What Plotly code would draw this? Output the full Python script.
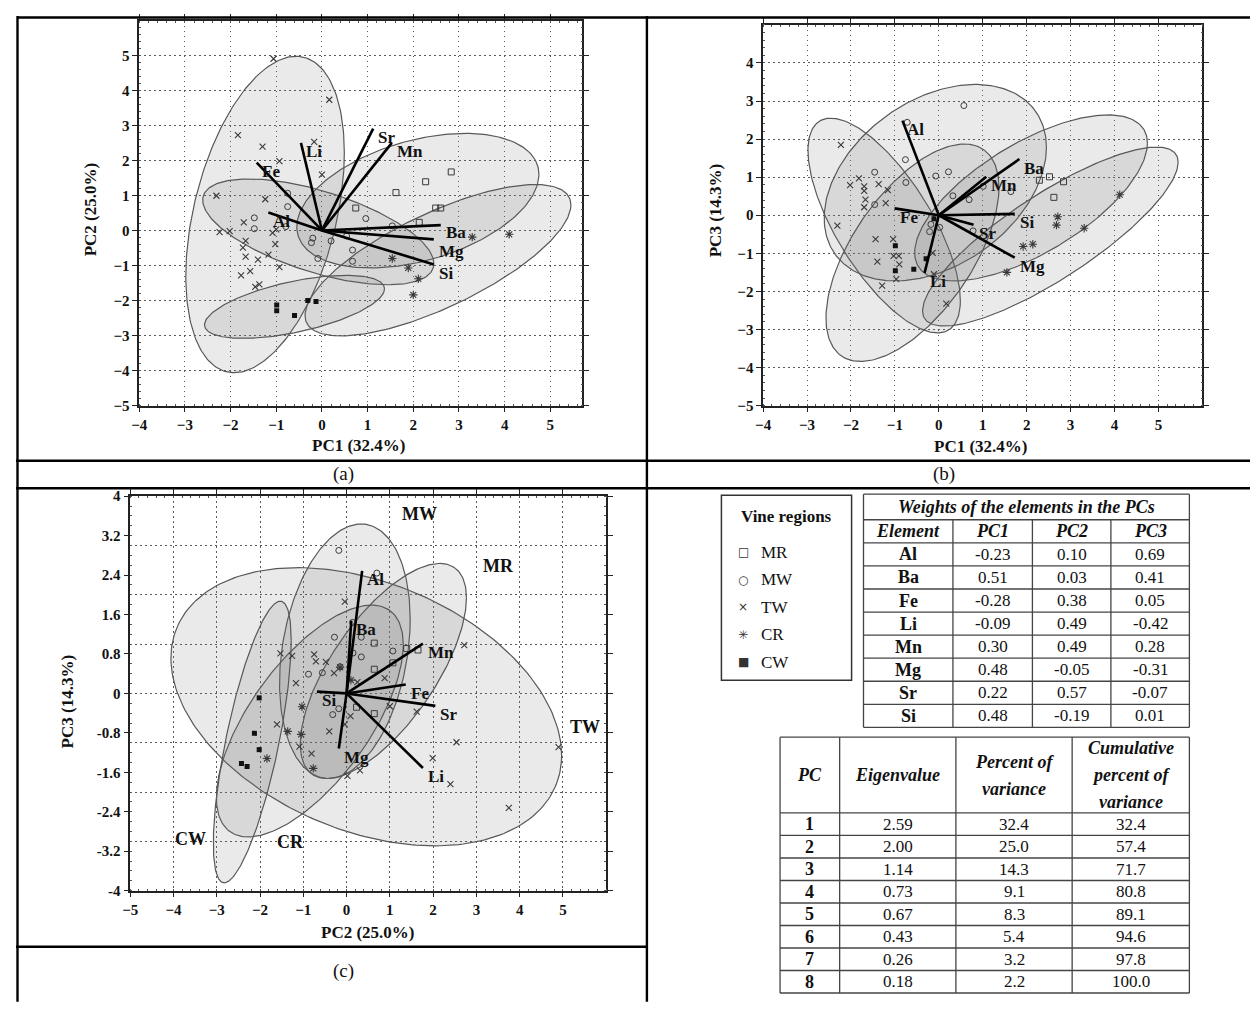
import numpy as np
import plotly.graph_objects as go

# The page body keeps its default 8px margin, so the figure is 16px smaller than
# the window and all reference pixel positions are shifted by that margin.
PAGE_W, PAGE_H, BODY_MARGIN = 1258, 1010, 8
W, H = PAGE_W - 2 * BODY_MARGIN, PAGE_H - 2 * BODY_MARGIN
SERIF = "Liberation Serif, Times New Roman, serif"

# ------------------------------------------------------------------ data
elements = ["Al", "Ba", "Fe", "Li", "Mn", "Mg", "Sr", "Si"]
w_pc1 = [-0.23, 0.51, -0.28, -0.09, 0.30, 0.48, 0.22, 0.48]
w_pc2 = [0.10, 0.03, 0.38, 0.49, 0.49, -0.05, 0.57, -0.19]
w_pc3 = [0.69, 0.41, 0.05, -0.42, 0.28, -0.31, -0.07, 0.01]

pc_numbers = [1, 2, 3, 4, 5, 6, 7, 8]
eigenvalues = [2.59, 2.00, 1.14, 0.73, 0.67, 0.43, 0.26, 0.18]
pct_variance = [32.4, 25.0, 14.3, 9.1, 8.3, 5.4, 3.2, 2.2]
cum_variance = [32.4, 57.4, 71.7, 80.8, 89.1, 94.6, 97.8, 100.0]

regions = ["MR", "MW", "TW", "CR", "CW"]

# panel (a): PC1 vs PC2 scores
MR_a_x = [2.83, 2.27, 1.62, 0.74, 2.49, 2.60, 2.13]
MR_a_y = [1.67, 1.39, 1.08, 0.64, 0.64, 0.64, 0.23]
MW_a_x = [-1.48, -1.48, -0.75, -0.75, -0.79, 0.96, 1.54, -0.20, -0.23, 0.20, 0.54, 0.67, 0.67, -0.09]
MW_a_y = [0.36, 0.05, 0.68, 1.06, 0.11, 0.34, 0.13, -0.22, -0.35, -0.30, -0.16, -0.56, -0.88, -0.80]
TW_a_x = [-1.06, 0.16, -1.84, -1.30, -0.17, -0.93, 0.00, -2.31, -1.24, -1.71, -2.24, -2.02, -1.67,
          -1.73, -1.67, -1.40, -1.17, -1.02, -1.08, -1.00, -0.93, -1.77, -1.57, -1.46, -1.37]
TW_a_y = [4.90, 3.73, 2.72, 2.39, 2.53, 1.98, 1.59, 0.99, 0.89, 0.23, -0.05, -0.02, -0.30,
          -0.49, -0.75, -0.83, -0.69, -0.39, -0.07, 0.03, -1.05, -1.28, -1.16, -1.61, -1.54]
CR_a_x = [1.54, 1.89, 2.11, 2.00, 3.29, 4.10]
CR_a_y = [-0.80, -1.07, -1.38, -1.84, -0.19, -0.11]
CW_a_x = [-0.99, -0.99, -0.60, -0.31, -0.13]
CW_a_y = [-2.13, -2.29, -2.43, -2.00, -2.03]

# panel (b): PC1 vs PC3 scores
MR_b_x = [2.52, 2.84, 2.29, 2.62]
MR_b_y = [1.01, 0.88, 0.92, 0.47]
MW_b_x = [0.57, -0.72, -0.76, -0.75, -1.46, -1.46, -0.07, 0.22, 0.32, 0.69, 1.01, 1.64, -0.18, -0.21, 0.02, 0.78]
MW_b_y = [2.88, 2.44, 1.46, 0.86, 1.13, 0.28, 1.03, 1.14, 0.51, 0.41, 0.76, 0.62, -0.24, -0.43, -0.32, -0.41]
TW_b_x = [-2.23, -2.02, -1.82, -1.70, -1.70, -1.67, -1.70, -1.37, -1.16, -1.21, -2.31, -1.44, -1.04,
          -1.03, -0.91, -0.90, -1.40, -0.97, -1.29, 0.17, -0.11, -0.14]
TW_b_y = [1.85, 0.79, 0.97, 0.76, 0.64, 0.41, 0.21, 0.82, 0.66, 0.32, -0.27, -0.63, -0.63,
          -1.07, -1.07, -1.29, -1.22, -1.68, -1.85, -2.32, -1.55, -0.99]
CR_b_x = [2.71, 2.68, 4.12, 3.31, 2.14, 1.92, 1.55]
CR_b_y = [-0.04, -0.26, 0.54, -0.34, -0.76, -0.82, -1.50]
CW_b_x = [-0.99, -0.99, -0.57, -0.29, -0.11]
CW_b_y = [-0.80, -1.46, -1.42, -1.14, -0.09]

# panel (c): PC2 vs PC3 scores
MR_c_x = [0.64, 1.65, 1.39, 0.64, 1.07, 0.23, 0.64]
MR_c_y = [1.02, 0.88, 0.91, 0.49, 0.62, -0.28, -0.41]
MW_c_x = [-0.18, 0.70, -0.28, 0.34, -0.88, -0.56, 0.34, 1.07, 0.15, -0.15, -0.32, -0.18, 0.14]
MW_c_y = [2.90, 2.44, 1.14, 1.14, 0.39, 0.42, 0.74, 0.86, 0.82, 0.54, -0.43, -0.31, 1.44]
TW_c_x = [-0.04, -1.53, -1.26, -0.75, -0.71, -0.48, -0.29, -1.17, 0.25, 0.88, 2.72, 1.00, 1.62,
          -1.61, -0.40, -1.09, -0.81, -0.04, 2.54, 1.99, 2.40, 4.90, 3.75, 0.31, 0.02, 0.09]
TW_c_y = [1.86, 0.81, 0.76, 0.79, 0.65, 0.64, 0.41, 0.21, 0.23, 0.31, 0.98, -0.26, -0.37,
          -0.63, -0.77, -1.08, -1.22, -0.63, -0.99, -1.31, -1.84, -1.09, -2.32, -1.56, -1.67, -0.46]
CR_c_x = [-0.15, -1.03, -1.36, -1.05, -0.77, -1.84, 0.10]
CR_c_y = [0.53, -0.27, -0.77, -0.83, -1.52, -1.32, 0.27]
CW_c_x = [-2.02, -2.13, -2.02, -2.43, -2.30]
CW_c_y = [-0.09, -0.81, -1.14, -1.42, -1.48]

# group ellipses: centre and half-extent of every region on each PC ...
ell_pc1 = {"TW": (-1.245, 1.735), "MW": (-0.08, 2.53), "MR": (2.10, 2.65), "CR": (2.54, 2.91), "CW": (-0.60, 1.97)}
ell_pc2 = {"TW": (0.455, 4.515), "MW": (-0.04, 1.51), "MR": (0.85, 1.92), "CR": (-0.85, 2.16), "CW": (-2.18, 0.90)}
ell_pc3 = {"TW": (-0.27, 2.82), "MW": (0.855, 2.58), "MR": (0.455, 2.18), "CR": (-0.56, 2.35), "CW": (-0.985, 2.855)}
# ... and the tilt (correlation) of each ellipse in each panel
tilt_a = {"TW": 0.39, "MW": -0.60, "MR": 0.39, "CR": 0.73, "CW": 0.57}
tilt_b = {"TW": -0.70, "MW": 0.36, "MR": 0.66, "CR": 0.83, "CW": 0.60}
tilt_c = {"TW": -0.35, "MW": 0.25, "MR": 0.68, "CR": 0.66, "CW": 0.72}

# biplot scaling of the loading vectors per panel
loading_scale_a = 5.1
loading_scale_b = 3.6
loading_scale_c = 3.6

a_x_ticks = [-4, -3, -2, -1, 0, 1, 2, 3, 4, 5]
a_y_ticks = [-5, -4, -3, -2, -1, 0, 1, 2, 3, 4, 5]
b_x_ticks = [-4, -3, -2, -1, 0, 1, 2, 3, 4, 5]
b_y_ticks = [-5, -4, -3, -2, -1, 0, 1, 2, 3, 4]
c_x_ticks = [-5, -4, -3, -2, -1, 0, 1, 2, 3, 4, 5]
c_y_ticks = [-4, -3.2, -2.4, -1.6, -0.8, 0, 0.8, 1.6, 2.4, 3.2, 4]
c_y_tick_text = ["-4", "-3.2", "-2.4", "-1.6", "-0.8", "0", "0.8", "1.6", "2.4", "3.2", "4"]
c_grid_ticks = [-3, -2, -1, 0, 1, 2, 3]


# ------------------------------------------------------------------ helpers
def px(x):
    return (x - BODY_MARGIN) / W


def py(y):
    return 1 - (y - BODY_MARGIN) / H


def ellipse_xy(cxr, cyr, rho, n=240):
    cx, rx = cxr
    cy, ry = cyr
    t = np.linspace(0, 2 * np.pi, n)
    phi = np.arccos(rho)
    return cx + rx * np.cos(t), cy + ry * np.cos(t - phi)


MC = "#3a3a3a"
marker_style = {
    "MR": dict(symbol="square-open", size=6, color=MC, line=dict(width=1, color=MC)),
    "MW": dict(symbol="circle-open", size=6, color=MC, line=dict(width=1, color=MC)),
    "TW": dict(symbol="x-thin-open", size=6, color=MC, line=dict(width=1.1, color=MC)),
    "CR": dict(symbol="asterisk-open", size=7, color=MC, line=dict(width=1.1, color=MC)),
    "CW": dict(symbol="square", size=5, color="#111111", line=dict(width=0, color="#111111")),
}

points = {
    "a": {"MR": (MR_a_x, MR_a_y), "MW": (MW_a_x, MW_a_y), "TW": (TW_a_x, TW_a_y),
          "CR": (CR_a_x, CR_a_y), "CW": (CW_a_x, CW_a_y)},
    "b": {"MR": (MR_b_x, MR_b_y), "MW": (MW_b_x, MW_b_y), "TW": (TW_b_x, TW_b_y),
          "CR": (CR_b_x, CR_b_y), "CW": (CW_b_x, CW_b_y)},
    "c": {"MR": (MR_c_x, MR_c_y), "MW": (MW_c_x, MW_c_y), "TW": (TW_c_x, TW_c_y),
          "CR": (CR_c_x, CR_c_y), "CW": (CW_c_x, CW_c_y)},
}

panels = [
    ("a", "x", "y", ell_pc1, ell_pc2, tilt_a, w_pc1, w_pc2, loading_scale_a),
    ("b", "x2", "y2", ell_pc1, ell_pc3, tilt_b, w_pc1, w_pc3, loading_scale_b),
    ("c", "x3", "y3", ell_pc2, ell_pc3, tilt_c, w_pc2, w_pc3, loading_scale_c),
]

# small label nudges (px, downward) where two labels would touch
label_nudge = {("a", "Ba"): -2, ("a", "Mg"): 3}

fig = go.Figure()
annotations = []
shapes = []

for key, xr, yr, ex_d, ey_d, tilt, lx, ly, sc in panels:
    for reg in ["TW", "MW", "MR", "CR", "CW"]:
        ex, ey = ellipse_xy(ex_d[reg], ey_d[reg], tilt[reg])
        fig.add_trace(go.Scatter(
            x=ex, y=ey, mode="lines", fill="toself",
            fillcolor="rgba(115,115,115,0.15)",
            line=dict(color="#585858", width=1.2),
            xaxis=xr, yaxis=yr, hoverinfo="skip", showlegend=False))
    for reg in regions:
        sx, sy = points[key][reg]
        fig.add_trace(go.Scatter(
            x=sx, y=sy, mode="markers", name=reg, legendgroup=reg,
            marker=marker_style[reg], xaxis=xr, yaxis=yr, showlegend=False))
    vx, vy = [], []
    for el, a, b in zip(elements, lx, ly):
        vx += [0, a * sc, None]
        vy += [0, b * sc, None]
        annotations.append(dict(
            x=a * sc, y=b * sc, xref=xr, yref=yr, text=f"<b>{el}</b>", showarrow=False,
            xanchor="left", yanchor="middle", xshift=3, yshift=-9 - label_nudge.get((key, el), 0),
            font=dict(family=SERIF, size=17, color="#111")))
    fig.add_trace(go.Scatter(
        x=vx, y=vy, mode="lines", line=dict(color="#000", width=2.6),
        xaxis=xr, yaxis=yr, hoverinfo="skip", showlegend=False))

# dummy trace so the integer grid overlay of panel (c) is drawn
fig.add_trace(go.Scatter(x=[None], y=[None], xaxis="x3", yaxis="y4", showlegend=False, hoverinfo="skip"))

# group labels in panel (c)
group_label_pos = {"MW": (1.68, 3.63), "MR": (3.52, 2.59), "TW": (5.52, -0.68),
                   "CW": (-3.61, -2.95), "CR": (-1.29, -3.01)}
for reg, (gx, gy) in group_label_pos.items():
    annotations.append(dict(x=gx, y=gy, xref="x3", yref="y3", text=f"<b>{reg}</b>", showarrow=False,
                            font=dict(family=SERIF, size=18, color="#111")))

# ------------------------------------------------------------------ axes
tickfont = dict(family=SERIF, size=15, color="#111", weight="bold")
GRID_DASH = "1.5px,3.5px"
GRID_COLOR = "#5a5a5a"


def axis(domain, rng, tickvals, anchor, ticktext=None, grid=True):
    d = dict(domain=domain, range=rng, tickmode="array", tickvals=tickvals, anchor=anchor,
             showline=True, linecolor="#222", linewidth=1.5, mirror="ticks",
             ticks="outside", ticklen=5, tickwidth=1.3, tickcolor="#222",
             tickfont=tickfont, showgrid=grid, gridcolor=GRID_COLOR, griddash=GRID_DASH,
             gridwidth=1.1, zeroline=False,
             minor=dict(ticks="inside", ticklen=2, tickcolor="#555", dtick=0.2, showgrid=False))
    if ticktext is not None:
        d["ticktext"] = ticktext
    return d


layout = dict(
    width=W, height=H, margin=dict(l=0, r=0, t=0, b=0),
    paper_bgcolor="white", plot_bgcolor="white", showlegend=False,
    xaxis=axis([px(132), px(578)], [-4, 5.7], a_x_ticks, "y"),
    yaxis=axis([py(404), py(13)], [-5, 5.98], a_y_ticks, "x"),
    xaxis2=axis([px(760), px(1202)], [-4, 6], b_x_ticks, "y2"),
    yaxis2=axis([py(404), py(17)], [-5, 5], b_y_ticks, "x2"),
    xaxis3=axis([px(123), px(602)], [-5, 6], c_x_ticks, "y3"),
    yaxis3=axis([py(897), py(496)], [-4, 4], c_y_ticks, "x3", ticktext=c_y_tick_text, grid=False),
    yaxis4=dict(overlaying="y3", anchor="x3", range=[-4, 4], tickmode="array", tickvals=c_grid_ticks,
                showticklabels=False, ticks="", showline=False, zeroline=False,
                showgrid=True, gridcolor=GRID_COLOR, griddash=GRID_DASH, gridwidth=1.1),
)

axis_titles = [
    ("PC1 (32.4%)", 353, 445, 0), ("PC2 (25.0%)", 83, 205, -90),
    ("PC1 (32.4%)", 979, 446, 0), ("PC3 (14.3%)", 712, 206, -90),
    ("PC2 (25.0%)", 362, 940, 0), ("PC3 (14.3%)", 60, 705, -90),
]
for t, x, y, ang in axis_titles:
    annotations.append(dict(x=px(x), y=py(y), xref="paper", yref="paper", text=f"<b>{t}</b>",
                            showarrow=False, textangle=ang, xanchor="center", yanchor="middle",
                            font=dict(family=SERIF, size=17, color="#111")))

for t, x, y in [("(a)", 325, 474), ("(b)", 955, 474), ("(c)", 325, 992)]:
    annotations.append(dict(x=px(x), y=py(y), xref="paper", yref="paper", text=t, showarrow=False,
                            font=dict(family=SERIF, size=19, color="#111")))


def hline(y, x0, x1, w=2.4, c="#000"):
    shapes.append(dict(type="line", xref="paper", yref="paper", x0=px(x0), x1=px(x1), y0=py(y), y1=py(y),
                       line=dict(color=c, width=w)))


def vline(x, y0, y1, w=2.4, c="#000"):
    shapes.append(dict(type="line", xref="paper", yref="paper", x0=px(x), x1=px(x), y0=py(y0), y1=py(y1),
                       line=dict(color=c, width=w)))


# outer frame
hline(9.5, 9, 1258)
vline(9.5, 8, 1010)
vline(643, 8, 1010)
hline(460, 8, 1258)
hline(488, 8, 1258)
hline(954, 8, 643)


def text(t, x, y, size=17, bold=False, italic=False, anchor="center", family=SERIF, color="#111"):
    if bold:
        t = f"<b>{t}</b>"
    if italic:
        t = f"<i>{t}</i>"
    annotations.append(dict(x=px(x), y=py(y), xref="paper", yref="paper", text=t, showarrow=False,
                            xanchor=anchor, yanchor="middle",
                            font=dict(family=family, size=size, color=color)))


TC = "#444"
# legend box "Vine regions"
legend_glyph = {"MR": "□", "MW": "○", "TW": "×", "CR": "✳", "CW": "■"}
lg_left, lg_top, lg_right, lg_bottom = 718, 495, 849, 683
shapes.append(dict(type="rect", xref="paper", yref="paper", x0=px(lg_left), x1=px(lg_right),
                   y0=py(lg_bottom), y1=py(lg_top), line=dict(color="#333", width=1.5)))
text("Vine regions", (lg_left + lg_right) / 2, 517, 17, True)
lg_item_y = np.linspace(553, 665, len(regions))
for reg, yy in zip(regions, lg_item_y):
    text(legend_glyph[reg], 740, yy, 12, anchor="center", family="DejaVu Sans", color="#333")
    text(reg, 756, yy, 17, anchor="left")

# weights table
wt_x = [861, 951, 1031, 1110, 1189]
wt_top, wt_title_b, wt_head_b, wt_bottom = 494, 520, 543.5, 731
wt_rows = np.linspace(wt_head_b, wt_bottom, len(elements) + 1)
hline(wt_top, wt_x[0], wt_x[-1], 1.3, TC)
hline(wt_title_b, wt_x[0], wt_x[-1], 1.3, TC)
for yy in wt_rows:
    hline(yy, wt_x[0], wt_x[-1], 1.3, TC)
vline(wt_x[0], wt_top, wt_bottom, 1.3, TC)
vline(wt_x[-1], wt_top, wt_bottom, 1.3, TC)
for xx in wt_x[1:-1]:
    vline(xx, wt_title_b, wt_bottom, 1.3, TC)
text("Weights of the elements in the PCs", (wt_x[0] + wt_x[-1]) / 2, (wt_top + wt_title_b) / 2, 18, True, True)
wt_cx = [(wt_x[i] + wt_x[i + 1]) / 2 for i in range(4)]
for cx, h in zip(wt_cx, ["Element", "PC1", "PC2", "PC3"]):
    text(h, cx, (wt_title_b + wt_head_b) / 2, 18, True, True)
for i, el in enumerate(elements):
    cy = (wt_rows[i] + wt_rows[i + 1]) / 2
    text(el, wt_cx[0], cy, 18, True)
    for cx, v in zip(wt_cx[1:], [w_pc1[i], w_pc2[i], w_pc3[i]]):
        text(f"{v:.2f}", cx, cy, 17)

# eigenvalue table
et_x = [777, 837, 954, 1071, 1189]
et_top, et_head_b, et_bottom = 741, 818, 1001
et_rows = np.linspace(et_head_b, et_bottom, len(pc_numbers) + 1)
hline(et_top, et_x[0], et_x[-1], 1.3, TC)
for yy in et_rows:
    hline(yy, et_x[0], et_x[-1], 1.3, TC)
for xx in et_x:
    vline(xx, et_top, et_bottom, 1.3, TC)
et_cx = [(et_x[i] + et_x[i + 1]) / 2 for i in range(4)]
et_hc = (et_top + et_head_b) / 2
headers = [["PC"], ["Eigenvalue"], ["Percent of", "variance"], ["Cumulative", "percent of", "variance"]]
for cx, lines in zip(et_cx, headers):
    n = len(lines)
    for k, ln in enumerate(lines):
        text(ln, cx, et_hc + (k - (n - 1) / 2) * 27.5, 18, True, True)
for i, pc in enumerate(pc_numbers):
    cy = (et_rows[i] + et_rows[i + 1]) / 2
    text(str(pc), et_cx[0], cy, 18, True)
    text(f"{eigenvalues[i]:.2f}", et_cx[1], cy, 17)
    text(f"{pct_variance[i]:.1f}", et_cx[2], cy, 17)
    text(f"{cum_variance[i]:.1f}", et_cx[3], cy, 17)

layout["annotations"] = annotations
layout["shapes"] = shapes
fig.update_layout(**layout)

fig.write_html("out.html", config={"displayModeBar": False})
